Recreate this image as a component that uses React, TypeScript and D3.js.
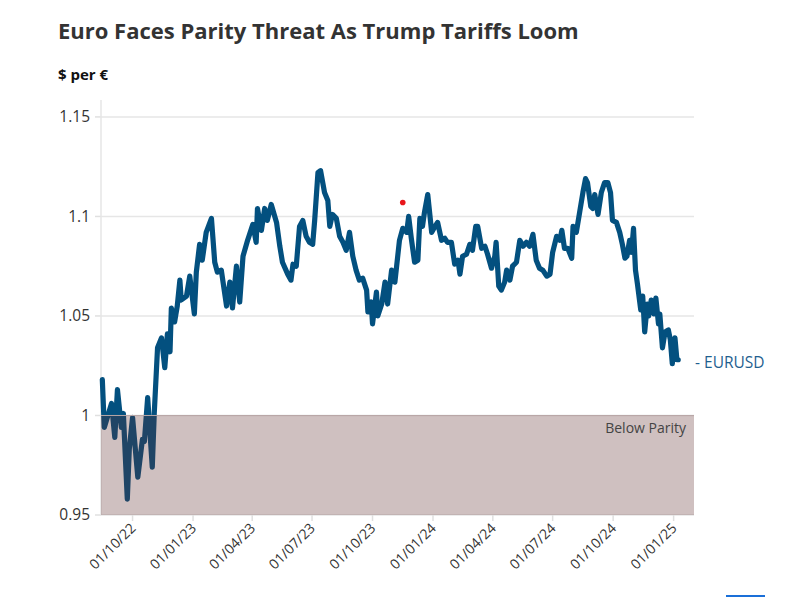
import React from "react";
import * as d3 from "d3";

const title = "Euro Faces Parity Threat As Trump Tariffs Loom";
const subtitle = "$ per €";
const seriesName = "EURUSD";
const parityLabel = "Below Parity";

const dates = [
  "2022-08-16","2022-08-19","2022-08-30","2022-09-04","2022-09-08","2022-09-14","2022-09-17","2022-09-23","2022-09-26","2022-10-01",
  "2022-10-09","2022-10-16","2022-10-19","2022-10-24","2022-10-31","2022-11-03","2022-11-08","2022-11-14","2022-11-19","2022-11-23",
  "2022-11-27","2022-11-29","2022-12-04","2022-12-08","2022-12-12","2022-12-14","2022-12-22","2022-12-27","2023-01-03","2023-01-06",
  "2023-01-11","2023-01-15","2023-01-21","2023-01-29","2023-02-03","2023-02-07","2023-02-13","2023-02-21","2023-02-26","2023-03-02",
  "2023-03-08","2023-03-13","2023-03-18","2023-03-25","2023-03-28","2023-04-02","2023-04-07","2023-04-09","2023-04-15","2023-04-20",
  "2023-04-24","2023-04-30","2023-05-08","2023-05-13","2023-05-17","2023-05-25","2023-05-30","2023-06-02","2023-06-07","2023-06-12",
  "2023-06-17","2023-06-22","2023-06-27","2023-07-02","2023-07-05","2023-07-10","2023-07-14","2023-07-20","2023-07-25","2023-07-28",
  "2023-08-01","2023-08-07","2023-08-12","2023-08-17","2023-08-22","2023-08-27","2023-09-01","2023-09-06","2023-09-11","2023-09-16",
  "2023-09-22","2023-09-24","2023-09-29","2023-10-01","2023-10-07","2023-10-09","2023-10-15","2023-10-20","2023-10-24","2023-10-30",
  "2023-11-04","2023-11-11","2023-11-16","2023-11-22","2023-11-25","2023-11-29","2023-12-04","2023-12-09","2023-12-12","2023-12-16",
  "2023-12-19","2023-12-24","2023-12-30","2024-01-04","2024-01-08","2024-01-14","2024-01-19","2024-01-23","2024-01-29","2024-02-03",
  "2024-02-08","2024-02-11","2024-02-15","2024-02-21","2024-02-26","2024-03-01","2024-03-06","2024-03-09","2024-03-15","2024-03-20",
  "2024-03-24","2024-03-30","2024-04-04","2024-04-06","2024-04-10","2024-04-14","2024-04-19","2024-04-22","2024-04-27","2024-05-01",
  "2024-05-07","2024-05-12","2024-05-17","2024-05-22","2024-05-27","2024-06-01","2024-06-06","2024-06-11","2024-06-16","2024-06-22",
  "2024-06-27","2024-07-01","2024-07-07","2024-07-12","2024-07-15","2024-07-19","2024-07-24","2024-07-30","2024-08-01","2024-08-06",
  "2024-08-11","2024-08-16","2024-08-20","2024-08-23","2024-08-28","2024-08-31","2024-09-03","2024-09-08","2024-09-13","2024-09-18",
  "2024-09-23","2024-09-27","2024-09-30","2024-10-06","2024-10-11","2024-10-15","2024-10-19","2024-10-22","2024-10-26","2024-10-29",
  "2024-11-01","2024-11-04","2024-11-07","2024-11-12","2024-11-15","2024-11-18","2024-11-22","2024-11-24","2024-11-28","2024-12-02",
  "2024-12-05","2024-12-09","2024-12-11","2024-12-15","2024-12-19","2024-12-24","2024-12-27","2024-12-30","2025-01-03","2025-01-06",
  "2025-01-08"
];

const eurusd = [
  1.018,0.994,1.006,0.989,1.013,0.994,1.001,0.958,0.983,0.999,
  0.969,0.988,0.987,1.009,0.974,1.001,1.034,1.039,1.024,1.041,
  1.032,1.054,1.047,1.055,1.068,1.058,1.060,1.070,1.051,1.072,
  1.086,1.078,1.092,1.099,1.077,1.072,1.073,1.055,1.067,1.054,
  1.075,1.057,1.080,1.088,1.091,1.096,1.087,1.104,1.093,1.104,
  1.098,1.106,1.097,1.085,1.077,1.071,1.068,1.076,1.075,1.095,
  1.098,1.090,1.087,1.086,1.098,1.122,1.123,1.112,1.108,1.095,
  1.101,1.099,1.090,1.087,1.083,1.092,1.080,1.073,1.068,1.069,
  1.063,1.052,1.057,1.046,1.062,1.050,1.056,1.067,1.056,1.073,
  1.067,1.088,1.094,1.092,1.100,1.089,1.077,1.078,1.099,1.095,
  1.102,1.111,1.092,1.095,1.097,1.088,1.089,1.087,1.087,1.076,
  1.078,1.071,1.080,1.081,1.086,1.083,1.095,1.095,1.084,1.085,
  1.081,1.074,1.080,1.087,1.065,1.063,1.067,1.073,1.068,1.075,
  1.077,1.088,1.085,1.087,1.085,1.091,1.078,1.074,1.073,1.070,
  1.071,1.082,1.090,1.088,1.093,1.084,1.084,1.079,1.095,1.092,
  1.102,1.112,1.119,1.117,1.105,1.104,1.111,1.101,1.112,1.117,
  1.117,1.112,1.098,1.097,1.092,1.086,1.079,1.080,1.088,1.082,
  1.094,1.073,1.066,1.053,1.060,1.042,1.056,1.050,1.058,1.051,
  1.059,1.046,1.051,1.034,1.042,1.043,1.038,1.026,1.039,1.028,
  1.028
];

const markerDate = "2023-11-16";
const markerValue = 1.107;

const yTicks = [0.95, 1, 1.05, 1.1, 1.15];
const yTickLabels = ["0.95", "1", "1.05", "1.1", "1.15"];
const xTickDates = ["2022-10-01","2023-01-01","2023-04-01","2023-07-01","2023-10-01","2024-01-01","2024-04-01","2024-07-01","2024-10-01","2025-01-01"];
const xTickLabels = ["01/10/22","01/01/23","01/04/23","01/07/23","01/10/23","01/01/24","01/04/24","01/07/24","01/10/24","01/01/25"];
const xDomain = ["2022-08-14", "2025-02-01"];
const yDomain = [0.95, 1.1585];
const parityLevel = 1;

export default function App() {
  const parse = d3.utcParse("%Y-%m-%d");
  const left = 101, right = 694, top = 100, bottom = 515;
  const x = d3.scaleUtc().domain(xDomain.map((d) => parse(d) as Date)).range([left, right]);
  const y = d3.scaleLinear().domain(yDomain).range([bottom, top]);
  const data = dates.map((d, i) => ({ date: parse(d) as Date, value: eurusd[i] }));
  const line = d3
    .line<{ date: Date; value: number }>()
    .x((d) => x(d.date))
    .y((d) => y(d.value));
  const last = data[data.length - 1];
  const font = "'Open Sans', 'Noto Sans', sans-serif";
  const lineColor = "#03507f";

  return (
    <svg
      width={808}
      height={598}
      style={{ position: "absolute", left: 0, top: 0, background: "#fff" }}
      fontFamily={font}
    >
      <rect x={0} y={0} width={808} height={598} fill="#fff" />
      <text x={58} y={39} fontSize={22} fontWeight={700} fill="#333">
        {title}
      </text>
      <text x={58} y={80} fontSize={15} fontWeight={700} fill="#111">
        {subtitle}
      </text>

      {yTicks.map((t, i) => (
        <g key={"g" + i}>
          <line x1={left} x2={right} y1={y(t)} y2={y(t)} stroke="#e6e6e6" strokeWidth={1.5} />
          <line x1={left - 6} x2={left} y1={y(t)} y2={y(t)} stroke="#e0e0e0" strokeWidth={1.5} />
          <text x={90} y={y(t)} dy="0.35em" textAnchor="end" fontSize={15.5} fill="#333">
            {yTickLabels[i]}
          </text>
        </g>
      ))}
      <line x1={left} x2={left} y1={top} y2={bottom} stroke="#e6e6e6" strokeWidth={1.5} />

      {xTickDates.map((d, i) => {
        const xp = x(parse(d) as Date);
        return (
          <g key={"x" + i}>
            <line x1={xp} x2={xp} y1={bottom} y2={bottom + 6} stroke="#e0e0e0" strokeWidth={1.5} />
            <text
              transform={`translate(${xp + 4},${bottom + 14}) rotate(-45)`}
              textAnchor="end"
              fontSize={14}
              fill="#333"
            >
              {xTickLabels[i]}
            </text>
          </g>
        );
      })}

      <path d={line(data) || ""} fill="none" stroke={lineColor} strokeWidth={5.2} strokeLinejoin="round" strokeLinecap="round" />

      <rect
        x={left}
        y={y(parityLevel)}
        width={right - left}
        height={y(yDomain[0]) - y(parityLevel)}
        fill="rgb(95,45,45)"
        fillOpacity={0.3}
      />
      <line x1={left} x2={right} y1={y(parityLevel)} y2={y(parityLevel)} stroke="#b9a6a6" strokeWidth={1} />
      <text x={686} y={433} textAnchor="end" fontSize={14} fill="#444">
        {parityLabel}
      </text>

      <circle cx={x(parse(markerDate) as Date)} cy={y(markerValue)} r={2.8} fill="#e8161b" />

      <text x={695} y={y(last.value) + 3} dy="0.35em" fontSize={15.5} fill="#1f5f8f">
        {"- " + seriesName}
      </text>

      <rect x={726} y={595} width={39} height={2} fill="#1a6fd8" />
    </svg>
  );
}
